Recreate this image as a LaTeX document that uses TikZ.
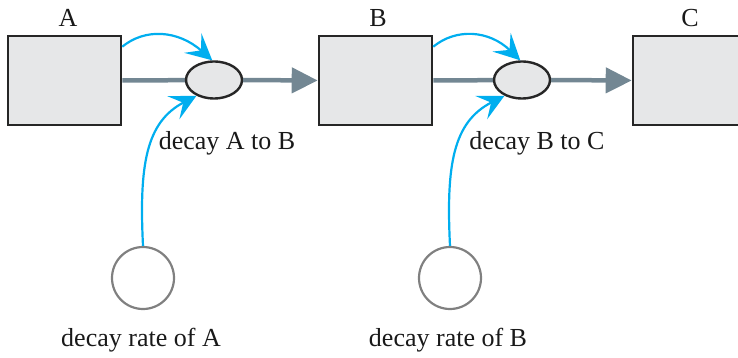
\documentclass[tikz,border=0pt]{standalone}
\usepackage{fontspec}
\setmainfont{Liberation Serif}
\usepackage{tikz}
\usetikzlibrary{positioning,arrows.meta,shapes.geometric}
\usepackage{xcolor}
\definecolor{pipegray}{RGB}{115,135,147}
\definecolor{linkblue}{RGB}{0,174,239}
\definecolor{boxfill}{RGB}{230,231,232}

\begin{document}
\begin{tikzpicture}[x=1pt,y=-1pt,
  stock/.style={rectangle, draw=black!85, fill=boxfill, line width=2.6pt, minimum width=113pt, minimum height=89pt, inner sep=0pt},
  valve/.style={ellipse, draw=black!85, fill=boxfill, line width=2.4pt, minimum width=56pt, minimum height=37pt, inner sep=0pt},
  aux/.style={circle, draw=black!50, line width=2.2pt, minimum size=62pt, inner sep=0pt},
  flow/.style={draw=pipegray, line width=4.5pt},
  link/.style={draw=linkblue, line width=2.2pt, -{Stealth[length=26pt,width=26pt,inset=11pt]}},
  lbl/.style={font=\fontsize{26}{30}\selectfont, text=black!90, inner sep=0pt}]
\useasboundingbox (0,0) rectangle (738,358);
\clip (0,0) rectangle (738,358);
% stocks
\node[stock] (A) at (64.5,80.5) {};
\node[stock] (B) at (375.5,80.5) {};
\node[stock] (C) at (689.5,80.5) {};
\node[lbl] (tA) at (68,18) {A};
\node[lbl] (tB) at (378,18) {B};
\node[lbl] (tC) at (690,18) {C};
% flows
\draw[flow] (A.east) -- (214,80) coordinate (pA);
\draw[flow] (B.east) -- (522,80) coordinate (pB);
\node[valve] (vA) at (214,80) {};
\node[valve] (vB) at (522,80) {};
\draw[flow, -{Triangle[length=26pt,width=25pt]}] (vA.east) -- (B.west);
\draw[flow, -{Triangle[length=26pt,width=25pt]}] (vB.east) -- (C.west);
\node[lbl] (dA) at (227,143) {decay A to B};
\node[lbl] (dB) at (537,143) {decay B to C};
% rates
\node[aux] (rA) at (143,278) {};
\node[aux] (rB) at (450,278) {};
\node[lbl] (lA) at (141,340) {decay rate of A};
\node[lbl] (lB) at (448,340) {decay rate of B};
% links
\draw[link] ([yshift=-12pt]A.north east) .. controls (145,28) and (178,30) .. (vA.95);
\draw[link] ([yshift=-12pt]B.north east) .. controls (456,28) and (489,30) .. (vB.95);
\draw[link] (rA.north) .. controls (139,165) and (146,122) .. (vA.-138);
\draw[link] (rB.north) .. controls (446,165) and (453,122) .. (vB.-138);
\end{tikzpicture}
\end{document}
